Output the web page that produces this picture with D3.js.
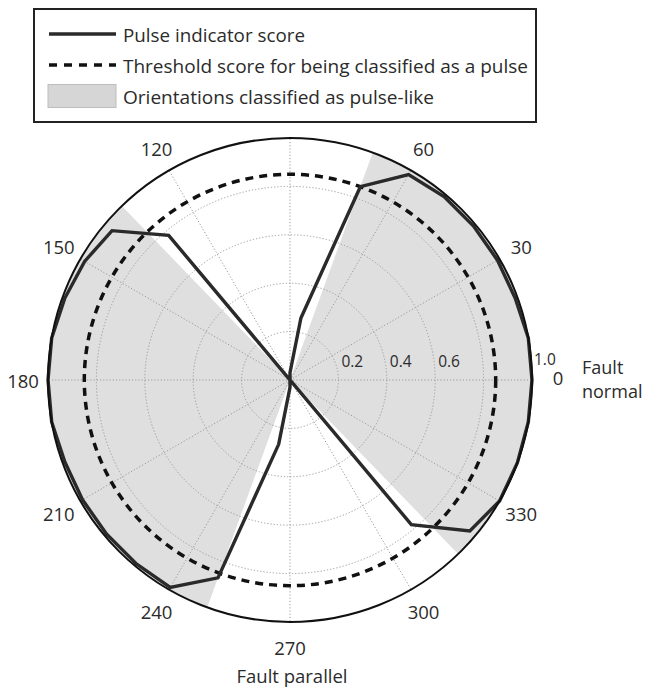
<!DOCTYPE html>
<html>
<head>
<meta charset="utf-8">
<script src="https://cdn.jsdelivr.net/npm/d3@7"></script>
<style>
  html, body { margin: 0; padding: 0; background: #fff; }
  svg { display: block; font-family: "Open Sans", "Noto Sans", sans-serif; }
</style>
</head>
<body>
<svg id="chart" width="645" height="689"></svg>
<script>
// Rotation angle of the horizontal component (degrees, counter-clockwise from fault normal)
const angles = [0, 10, 20, 30, 40, 50, 60, 70, 80, 90, 100, 110,
                120, 130, 140, 150, 160, 170, 180, 190, 200, 210, 220, 230,
                240, 250, 260, 270, 280, 290, 300, 310, 320, 330, 340, 350];
// Pulse indicator score at each orientation
const scores = [1.00, 1.00, 0.99, 0.99, 0.99, 0.99, 0.98, 0.85, 0.26, 0.03, 0.00, 0.00,
                0.00, 0.78, 0.96, 0.98, 0.99, 1.00, 1.00, 1.00, 0.99, 0.99, 0.99, 0.99,
                0.99, 0.87, 0.27, 0.03, 0.00, 0.00, 0.00, 0.78, 0.97, 1.00, 1.00, 1.00];
// Score needed to be classified as a pulse
const threshold = 0.85;
// Orientation ranges classified as pulse-like [from, to] in degrees
const pulseRanges = [[-46, 70], [134, 250]];
// Axis ticks
const angleTicks = [0, 30, 60, 90, 120, 150, 180, 210, 240, 270, 300, 330];
const angleTickLabels = ["0", "30", "60", "", "120", "150", "180", "210", "240", "270", "300", "330"];
const radialGrid = [0.2, 0.4, 0.6, 0.8];
const radialTickLabels = [0.2, 0.4, 0.6, 1.0];
const legendLabels = ["Pulse indicator score",
                      "Threshold score for being classified as a pulse",
                      "Orientations classified as pulse-like"];
const axisTitles = { normal: ["Fault", "normal"], parallel: "Fault parallel" };

const svg = d3.select("#chart");
const cx = 290, cy = 380, R = 242;
const textColor = "#2b2b2b";

const r = d3.scaleLinear().domain([0, 1]).range([0, R]);
// compass angle for d3 (clockwise from 12 o'clock) from math angle (ccw from east)
const theta = d3.scaleLinear().domain([0, 360]).range([Math.PI / 2, Math.PI / 2 - 2 * Math.PI]);

const g = svg.append("g").attr("transform", `translate(${cx},${cy})`);

// pulse-like orientation wedges
const arc = d3.arc().innerRadius(0).outerRadius(r(1));
g.selectAll("path.wedge").data(pulseRanges).join("path")
  .attr("class", "wedge")
  .attr("d", d => arc({ startAngle: theta(d[1]), endAngle: theta(d[0]) }))
  .attr("fill", "#dfdfdf");

// dotted grid circles and spokes
g.selectAll("circle.grid").data(radialGrid).join("circle")
  .attr("class", "grid")
  .attr("r", d => r(d))
  .attr("fill", "none")
  .attr("stroke", "#9a9a9a")
  .attr("stroke-width", 1)
  .attr("stroke-dasharray", "1.2,2");

g.selectAll("line.spoke").data(angleTicks).join("line")
  .attr("class", "spoke")
  .attr("x1", 0).attr("y1", 0)
  .attr("x2", d => r(1) * Math.sin(theta(d)))
  .attr("y2", d => -r(1) * Math.cos(theta(d)))
  .attr("stroke", "#9a9a9a")
  .attr("stroke-width", 1)
  .attr("stroke-dasharray", "1.2,2");

// threshold circle
g.append("circle")
  .attr("r", r(threshold))
  .attr("fill", "none")
  .attr("stroke", "#111")
  .attr("stroke-width", 3.5)
  .attr("stroke-dasharray", "8,6");

// pulse indicator score
const radial = d3.lineRadial()
  .angle((d, i) => theta(angles[i]))
  .radius(d => r(d))
  .curve(d3.curveLinearClosed);
g.append("path")
  .datum(scores)
  .attr("d", radial)
  .attr("fill", "none")
  .attr("stroke", "#2a2a2a")
  .attr("stroke-width", 3.4)
  .attr("stroke-linejoin", "miter");

// outer circle
g.append("circle")
  .attr("r", r(1))
  .attr("fill", "none")
  .attr("stroke", "#111")
  .attr("stroke-width", 2);

// angle labels
const labelR = r(1) + 25;
g.selectAll("text.angle").data(angleTicks).join("text")
  .attr("class", "angle")
  .attr("x", d => labelR * Math.sin(theta(d)) + (d === 0 ? 1 : 0))
  .attr("y", d => -labelR * Math.cos(theta(d)) + (d === 0 ? -3 : 0))
  .attr("text-anchor", "middle")
  .attr("dominant-baseline", "central")
  .attr("font-size", 18.5)
  .attr("fill", textColor)
  .text((d, i) => angleTickLabels[i]);

// radial labels
g.selectAll("text.rlabel").data(radialTickLabels).join("text")
  .attr("class", "rlabel")
  .attr("x", d => r(d) + (d === 1 ? 2 : 3))
  .attr("y", d => d === 1 ? -15 : -13)
  .attr("font-size", 15.5)
  .attr("fill", textColor)
  .text(d => d3.format(".1f")(d));

// axis titles
svg.selectAll("text.normal").data(axisTitles.normal).join("text")
  .attr("class", "normal")
  .attr("x", 582)
  .attr("y", (d, i) => 374 + i * 24)
  .attr("font-size", 18).attr("fill", textColor)
  .text(d => d);

svg.append("text")
  .attr("x", cx + 2).attr("y", 683)
  .attr("text-anchor", "middle")
  .attr("font-size", 18.5).attr("fill", textColor)
  .text(axisTitles.parallel);

// legend
const lg = svg.append("g");
lg.append("rect")
  .attr("x", 34).attr("y", 9).attr("width", 502).attr("height", 113)
  .attr("fill", "#fff").attr("stroke", "#222").attr("stroke-width", 2);

const rowY = [34, 65, 96];
const legendWidths = [182, 405, 311];
lg.append("line")
  .attr("x1", 49).attr("x2", 116).attr("y1", rowY[0]).attr("y2", rowY[0])
  .attr("stroke", "#2a2a2a").attr("stroke-width", 3.4);
lg.append("line")
  .attr("x1", 49).attr("x2", 116).attr("y1", rowY[1]).attr("y2", rowY[1])
  .attr("stroke", "#111").attr("stroke-width", 3.5).attr("stroke-dasharray", "8,7");
lg.append("rect")
  .attr("x", 48).attr("y", rowY[2] - 11.5).attr("width", 68).attr("height", 23)
  .attr("fill", "#d6d6d6").attr("stroke", "#bdbdbd").attr("stroke-width", 1);

lg.selectAll("text.leg").data(legendLabels).join("text")
  .attr("class", "leg")
  .attr("x", 123)
  .attr("y", (d, i) => rowY[i] + 1)
  .attr("dominant-baseline", "central")
  .attr("font-size", 19)
  .attr("textLength", (d, i) => legendWidths[i])
  .attr("lengthAdjust", "spacingAndGlyphs")
  .attr("fill", textColor)
  .text(d => d);
</script>
</body>
</html>
